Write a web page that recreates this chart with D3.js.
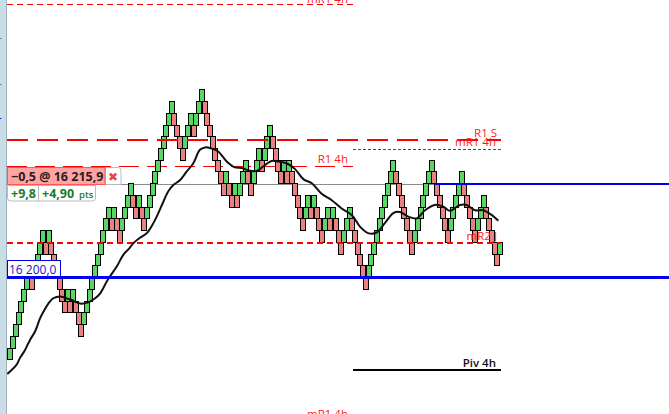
<!DOCTYPE html>
<html><head><meta charset="utf-8">
<script src="https://cdn.jsdelivr.net/npm/d3@7"></script>
<style>
html,body{margin:0;padding:0;background:#fff;overflow:hidden}
svg{display:block}
text{font-family:"Open Sans",sans-serif}
</style></head><body>
<svg id="c" width="669" height="414"></svg>
<script>
// Low price of each Renko brick, in order (brick size: 2 points)
const brickLows = [
16186,16188,16190,16192,16194,16196,16198,16200,16198,16200,
16202,16204,16206,16204,16206,16204,16202,16200,16198,16196,
16194,16196,16194,16196,16194,16192,16190,16192,16194,16196,
16198,16200,16202,16204,16206,16208,16210,16208,16210,16208,
16206,16208,16210,16212,16214,16212,16210,16212,16210,16208,
16210,16212,16214,16216,16218,16220,16222,16224,16226,16228,
16226,16224,16222,16220,16222,16224,16226,16224,16226,16228,
16230,16228,16226,16224,16222,16220,16218,16216,16214,16216,
16214,16212,16214,16212,16214,16216,16218,16216,16214,16216,
16218,16220,16218,16220,16222,16224,16222,16220,16218,16216,
16218,16216,16218,16216,16214,16212,16210,16208,16210,16212,
16210,16212,16210,16208,16206,16208,16210,16208,16210,16208,
16206,16204,16206,16208,16210,16208,16206,16204,16202,16200,
16198,16200,16202,16204,16206,16208,16210,16212,16214,16216,
16218,16216,16214,16212,16210,16208,16206,16204,16206,16208,
16210,16212,16214,16216,16218,16216,16214,16212,16210,16208,
16206,16208,16210,16212,16214,16216,16214,16212,16210,16208,
16206,16208,16210,16212,16210,16208,16206,16204,16202,16204];
const brickPoints = 2;
// Moving average: brick position and price
const maIndex = [0,3.4,4.6,6.5,8.3,10.1,12,13.2,15,16.8,19.3,21.1,23.5,26.6,29.6,32.1,33.9,36.3,37.5,40,42.4,44.6,46.1,48.5,51,53.4,55.2,57,58.8,60.7,63.1,65.6,68,70.4,72.3,74.7,77.1,80.2,83.2,85.7,88.1,91.2,94.2,96.6,99,102.1,105.2,108.2,111.3,114.9,118.6,122.2,125.9,128.9,131.9,135,138,141.1,143.5,146.6,149.6,152.7,156.3,159.4,161.8,165.5,167.9,171,174,177,179.5];
const maPrice = [16183.5,16185.1,16186.2,16187.6,16189.3,16190.7,16193,16194.1,16195.5,16196.4,16196.7,16196.5,16196.1,16195.5,16195.7,16196.4,16197.2,16199.2,16200.1,16201.8,16203.8,16204.9,16205.8,16206.7,16207.5,16209.2,16210.9,16212.8,16214.6,16215.7,16216.5,16218,16219.4,16221.7,16222.1,16221.9,16221.4,16219.7,16218.7,16218.6,16218.2,16218.1,16219.1,16219.8,16219.7,16219.4,16218.4,16216.7,16216,16214.2,16213.1,16211.7,16210.6,16208.6,16207.5,16207.6,16209.2,16210.9,16211.1,16210.3,16210,16211.4,16212.3,16212,16211.3,16212.3,16212.3,16211.4,16211.4,16210.6,16209.6];
const priceR1S = 16223.3, priceMR14h = 16221.8, priceR14h = 16218.9, priceTop = 16246.5;
const priceCurrent = 16215.9, priceLevel = 16200, priceMR2J = 16205.8, pricePiv = 16184.2;
const infoText = ["\u22120,5 @ 16 215,9","+9,8","+4,90","pts"];
const levelLabel = "16 200,0";
const lineLabels = ["R1 S","mR1 4h","R1 4h","mR2 J","Piv 4h","mR1 4h"];

const svg = d3.select("#c");
const x = d3.scaleLinear().domain([0,179]).range([7.3,497]);
const y = d3.scaleLinear().domain([16186,16232]).range([359.3,89.3]);

// left strip
svg.append("rect").attr("x",0).attr("y",0).attr("width",6).attr("height",414).attr("fill","#c9dde6");
svg.append("rect").attr("x",6).attr("y",0).attr("width",1).attr("height",414).attr("fill","#9fb2bd");
[[38,"#667"],[84,"#667"],[118,"#2222ee"]].forEach(m=>svg.append("rect").attr("x",0).attr("y",m[0]).attr("width",1.5).attr("height",1).attr("fill",m[1]));

const hline=(x0,x1,p,col,w,dash)=>svg.append("line").attr("x1",x0).attr("x2",x1)
 .attr("y1",Math.round(y(p))+(w%2?0.5:0)).attr("y2",Math.round(y(p))+(w%2?0.5:0))
 .attr("stroke",col).attr("stroke-width",w).attr("stroke-dasharray",dash||null);

hline(7,435,priceCurrent,"#8a8a8a",1);
hline(7,353,priceTop,"#ff0000",1,"6,4");
hline(7,353,priceR14h,"#ff0000",1,"20,8");
hline(353,501,priceMR14h,"#ff0000",1,"3,2");

// bricks
svg.append("g").selectAll("rect").data(brickLows).join("rect")
 .attr("x",(d,i)=>Math.round(x(i))+0.5)
 .attr("y",d=>Math.round(y(d+brickPoints))+0.5)
 .attr("width",5)
 .attr("height",d=>Math.round(y(d))-Math.round(y(d+brickPoints)))
 .attr("fill",(d,i)=> (i===0||d>brickLows[i-1]) ? "#58d765" : "#ea8080")
 .attr("stroke","#000").attr("stroke-width",1);

hline(7,501,priceR1S,"#ff0000",2,"21,9");
hline(7,501,priceMR2J,"#ff0000",2,"6,4");

// moving average
svg.append("path").datum(d3.range(maIndex.length))
 .attr("fill","none").attr("stroke","#111").attr("stroke-width",2)
 .attr("d",d3.line().x(i=>x(maIndex[i])).y(i=>y(maPrice[i])).curve(d3.curveCatmullRom));

hline(7,669,priceLevel,"#0000ee",3);
hline(435,669,priceCurrent,"#0000ee",2);
hline(353,501,pricePiv,"#000",2);

// line labels
const lab=(t,x1,yy,col,w)=>svg.append("text").attr("x",x1).attr("y",yy).attr("text-anchor","end")
 .attr("font-size",11.5).attr("fill",col).attr("font-weight",w||400).text(t);
lab(lineLabels[0],497,137,"#ff1a1a");
lab(lineLabels[1],496,146,"#ff1a1a");
lab(lineLabels[2],348,163,"#ff1a1a");
lab(lineLabels[3],497,240,"#ff1a1a");
lab(lineLabels[4],496,367,"#111",600);
lab(lineLabels[5],348,417.5,"#ff1a1a");
lab(lineLabels[5],348,3,"#ff1a1a");

// 16 200,0 flag
svg.append("rect").attr("x",7.5).attr("y",260.5).attr("width",53).attr("height",16).attr("fill","#fff").attr("stroke","#0000ee");
svg.append("text").attr("x",9).attr("y",273.5).attr("font-size",12).attr("fill","#1414d2").text(levelLabel);

// order box
svg.append("path").attr("d","M105.5,167.5H118a3,3 0 0 1 3,3V184.5H105.5Z").attr("fill","#fff").attr("stroke","#b5bcc0");
svg.append("rect").attr("x",7.5).attr("y",167.5).attr("width",97.5).attr("height",17).attr("fill","#ffa3a3").attr("stroke","#f55");
svg.append("text").attr("x",113).attr("y",181).attr("text-anchor","middle").attr("font-size",12).attr("fill","#d94a4a").text("\u2716");
svg.append("text").attr("x",11).attr("y",181).attr("font-size",12.5).attr("font-weight",700).attr("fill","#2b1c1c").text(infoText[0]);
svg.append("path").attr("d","M7.5,185.5H95.5V198a3,3 0 0 1 -3,3H10.5a3,3 0 0 1 -3,-3Z").attr("fill","#fff").attr("stroke","#b5bcc0");
svg.append("line").attr("x1",38.5).attr("x2",38.5).attr("y1",185).attr("y2",201).attr("stroke","#b5bcc0");
svg.append("text").attr("x",11).attr("y",198).attr("font-size",12.5).attr("font-weight",700).attr("fill","#1c7a2c").text(infoText[1]);
svg.append("text").attr("x",42).attr("y",198).attr("font-size",12.5).attr("font-weight",700).attr("fill","#1c7a2c").text(infoText[2]);
svg.append("text").attr("x",79).attr("y",198).attr("font-size",9.5).attr("font-weight",600).attr("fill","#1c7a2c").text(infoText[3]);
</script>
</body></html>
